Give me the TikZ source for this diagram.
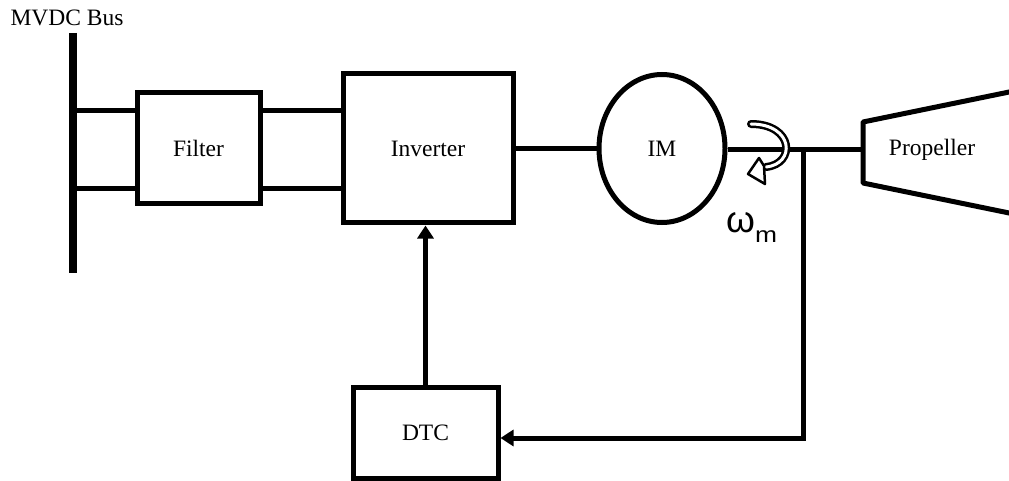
\documentclass[tikz,border=0pt]{standalone}
\usepackage{fontspec}
\setmainfont{Liberation Serif}
\newfontfamily\omegafont{Liberation Sans}
\usetikzlibrary{arrows.meta,shapes.geometric}
\begin{document}
\begin{tikzpicture}[x=1pt,y=-1pt,
  blk/.style={draw,line width=5pt,rectangle,inner sep=0pt,font=\fontsize{23.5}{27}\selectfont},
  wire/.style={line width=5pt},
  sig/.style={line width=5pt,-{Triangle[length=13pt,width=16pt]}},
  txt/.style={font=\fontsize{23.5}{27}\selectfont,inner sep=0pt}]
\useasboundingbox (0,0) rectangle (1009,481);
% bus
\draw[line width=8pt] (73,33) -- (73,273);
\node[txt,anchor=base] (buslabel) at (67,26) {MVDC Bus};
\coordinate (busA) at (73,111);
\coordinate (busB) at (73,189);
% blocks
\node[blk,minimum width=123pt,minimum height=111pt] (filter) at (198.5,148.5) {Filter};
\node[blk,minimum width=170pt,minimum height=149pt] (inv) at (428,148.5) {Inverter};
\node[draw,ellipse,line width=5pt,minimum width=126pt,minimum height=148pt,inner sep=0pt,font=\fontsize{23.5}{27}\selectfont] (im) at (662,148.5) {IM};
\node[blk,minimum width=145pt,minimum height=91pt] (dtc) at (425.5,432.5) {DTC};
% propeller
\draw[line width=5pt,line join=round] (1015,90.8) -- (863,122) -- (863,183) -- (1015,214.2);
\node[txt] (prop) at (932,150) {Propeller};
\coordinate (propin) at (863,150);
% connections
\draw[wire] (busA) -- (filter.west |- busA);
\draw[wire] (busB) -- (filter.west |- busB);
\draw[wire] (filter.east |- busA) -- (inv.west |- busA);
\draw[wire] (filter.east |- busB) -- (inv.west |- busB);
\draw[wire] (inv.east) -- (im.west);
\coordinate (tap) at (803,150);
\draw[wire] (im.east |- tap) -- (propin);
\coordinate (corner) at (803,438);
\draw[sig,line join=miter] (tap) -- (corner) -- (dtc.east |- corner);
\draw[sig] (dtc.north) -- (dtc.north |- inv.south);
% rotation arrow (hollow)
\draw[line width=8pt,line cap=round] (751,124) .. controls (794,124) and (796,164) .. (766,167);
\draw[line width=3pt,white,line cap=round] (751,124) .. controls (794,124) and (796,164) .. (766,167);
\draw[line width=2.5pt,fill=white,line join=round] (748,174) -- (759,158) -- (764,166) -- (765,184) -- cycle;
\node[inner sep=0pt,anchor=base west] (omega) at (726,233) {\omegafont\fontsize{37}{37}\selectfont ω\raisebox{-10pt}{\scalebox{1.2}[1]{\fontsize{22}{22}\selectfont m}}};
\end{tikzpicture}
\end{document}
